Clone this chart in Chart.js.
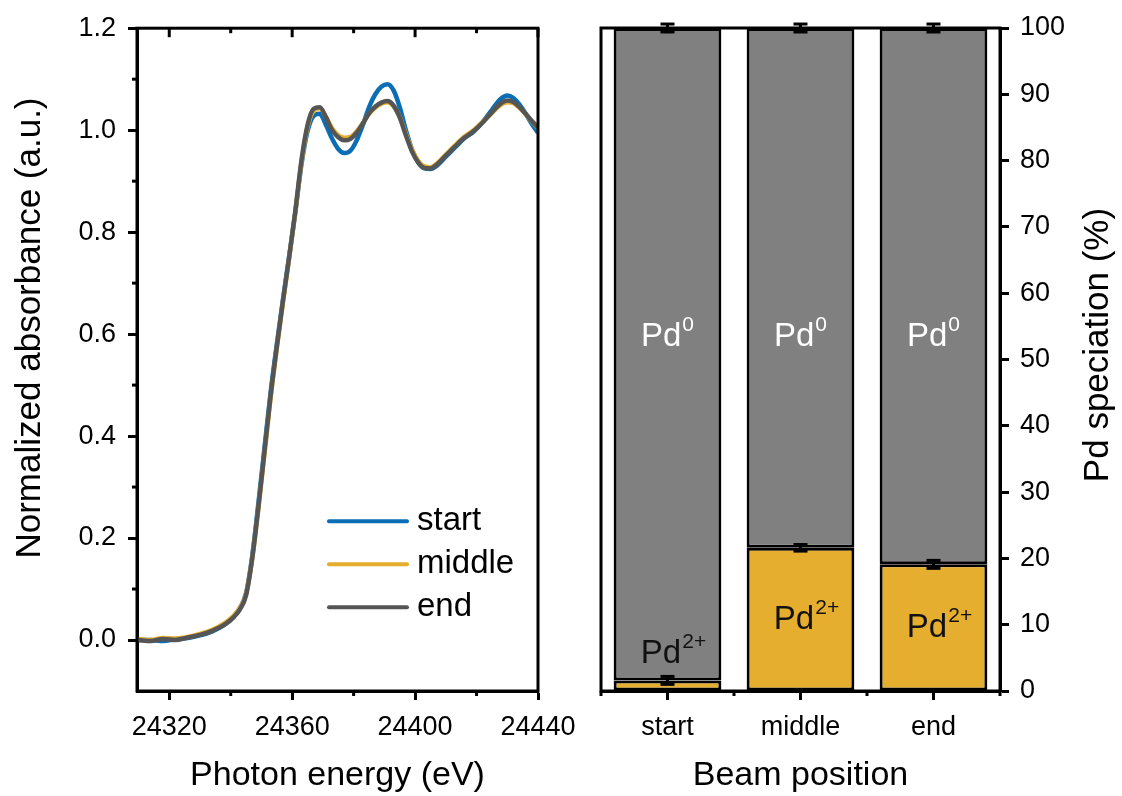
<!DOCTYPE html>
<html>
<head>
<meta charset="utf-8">
<title>Pd K-edge XANES and speciation</title>
<script src="https://cdn.jsdelivr.net/npm/chart.js@4.4.1/dist/chart.umd.min.js"></script>
<style>
  html, body { margin: 0; padding: 0; background: #fff; }
  #wrap { position: relative; width: 1122px; height: 796px; overflow: hidden; }
  canvas { position: absolute; top: 0; }
  #spectra { left: 0; }
  #speciation { left: 560px; }
</style>
</head>
<body>
<div id="wrap">
  <canvas id="spectra" width="600" height="796"></canvas>
  <canvas id="speciation" width="562" height="796"></canvas>
</div>
<script>
// Left panel: normalized XANES spectra
const energy = [24310, 24314, 24318, 24322, 24326, 24330, 24334, 24338, 24341, 24343,
  24345, 24347, 24349, 24351, 24353, 24355, 24357, 24359, 24361, 24363,
  24365, 24367, 24369, 24371, 24373, 24375, 24377, 24379, 24381, 24383,
  24385, 24387, 24389, 24391, 24393, 24395, 24397, 24399, 24401, 24403,
  24405, 24407, 24410, 24413, 24416, 24419, 24422, 24425, 24428, 24430,
  24432, 24434, 24436, 24438, 24440];

const absStart = [0.000, 0.000, -0.002, 0.002, 0.004, 0.009, 0.017, 0.030, 0.046, 0.063,
  0.092, 0.165, 0.268, 0.378, 0.487, 0.580, 0.668, 0.752, 0.838, 0.932,
  0.998, 1.028, 1.032, 1.010, 0.983, 0.963, 0.955, 0.960, 0.980, 1.010,
  1.045, 1.070, 1.085, 1.090, 1.078, 1.045, 1.000, 0.962, 0.937, 0.925,
  0.924, 0.930, 0.948, 0.966, 0.984, 0.997, 1.016, 1.040, 1.062, 1.068,
  1.063, 1.050, 1.032, 1.012, 0.995];

const absMiddle = [0.002, 0.000, 0.004, 0.003, 0.006, 0.012, 0.020, 0.033, 0.048, 0.063,
  0.090, 0.160, 0.258, 0.366, 0.476, 0.572, 0.662, 0.748, 0.838, 0.936,
  1.006, 1.038, 1.043, 1.026, 1.004, 0.990, 0.985, 0.987, 0.998, 1.014,
  1.032, 1.044, 1.052, 1.055, 1.047, 1.026, 0.993, 0.962, 0.940, 0.929,
  0.927, 0.934, 0.952, 0.970, 0.987, 1.000, 1.016, 1.034, 1.050, 1.055,
  1.053, 1.044, 1.031, 1.017, 1.004];

const absEnd = [0.000, -0.002, 0.002, 0.000, 0.005, 0.010, 0.018, 0.030, 0.045, 0.060,
  0.088, 0.160, 0.260, 0.370, 0.480, 0.575, 0.665, 0.750, 0.840, 0.940,
  1.010, 1.042, 1.045, 1.025, 1.000, 0.986, 0.980, 0.983, 0.995, 1.013,
  1.033, 1.046, 1.054, 1.057, 1.048, 1.025, 0.990, 0.958, 0.937, 0.926,
  0.925, 0.932, 0.950, 0.968, 0.985, 0.998, 1.015, 1.035, 1.053, 1.058,
  1.055, 1.045, 1.032, 1.018, 1.005];

const seriesNames = ['start', 'middle', 'end'];
const energyTicks = [24320, 24360, 24400, 24440];
const energyMinorTicks = [24340, 24380, 24420];
const absTicks = [0, 0.2, 0.4, 0.6, 0.8, 1.0, 1.2];
const absMinorTicks = [0.1, 0.3, 0.5, 0.7, 0.9, 1.1];

// Right panel: Pd speciation from linear combination fitting
const positions = ['start', 'middle', 'end'];
const pd2Share = [1.6, 21.6, 19.1];
const pd2Error = [0.6, 0.5, 0.6];
const pd0Share = [98.4, 78.4, 80.9];
const pd0Error = [0.6, 0.6, 0.6];
const shareTicks = [0, 10, 20, 30, 40, 50, 60, 70, 80, 90, 100];

const FONT = "'Liberation Sans', Arial, sans-serif";
Chart.defaults.font.family = FONT;
Chart.defaults.color = '#000';

const seriesColors = ['#0b6db3', '#e6ae2e', '#555555'];
const absSeries = [absStart, absMiddle, absEnd];

function line(ctx, x1, y1, x2, y2) {
  ctx.beginPath();
  ctx.moveTo(x1, y1);
  ctx.lineTo(x2, y2);
  ctx.stroke();
}

function verticalTitle(ctx, text, x, y) {
  ctx.save();
  ctx.translate(x, y);
  ctx.rotate(-Math.PI / 2);
  ctx.font = '35px ' + FONT;
  ctx.fillStyle = '#000';
  ctx.textAlign = 'center';
  ctx.textBaseline = 'middle';
  ctx.fillText(text, 0, 0);
  ctx.restore();
}

// "Pd" with a raised superscript, centred on cx
function pdLabel(ctx, sup, cx, baseline, color) {
  ctx.save();
  ctx.fillStyle = color;
  ctx.textBaseline = 'alphabetic';
  ctx.textAlign = 'left';
  ctx.font = '33px ' + FONT;
  const wBase = ctx.measureText('Pd').width;
  ctx.font = '21px ' + FONT;
  const wSup = ctx.measureText(sup).width;
  const x0 = cx - (wBase + wSup + 1) / 2;
  ctx.font = '33px ' + FONT;
  ctx.fillText('Pd', x0, baseline);
  ctx.font = '21px ' + FONT;
  ctx.fillText(sup, x0 + wBase + 1, baseline - 15);
  ctx.restore();
}

const axisGrid = { drawOnChartArea: false, tickLength: 9, tickWidth: 3, tickColor: '#000' };
const axisBorder = { color: '#000', width: 3 };

const spectraDecor = {
  id: 'spectraDecor',
  afterDraw(chart) {
    const { ctx, chartArea: a, scales: { x, y } } = chart;
    ctx.save();
    ctx.strokeStyle = '#000';
    ctx.lineWidth = 3;
    // mirrored ticks on the top edge point inward
    energyTicks.forEach(v => {
      const px = x.getPixelForValue(v);
      line(ctx, px, a.top, px, a.top + 9);
    });
    energyMinorTicks.forEach(v => {
      const px = x.getPixelForValue(v);
      line(ctx, px, a.bottom, px, a.bottom + 5);
      line(ctx, px, a.top, px, a.top + 5);
    });
    absMinorTicks.forEach(v => {
      const py = y.getPixelForValue(v);
      line(ctx, a.left - 5, py, a.left, py);
    });
    ctx.strokeRect(a.left, a.top, a.right - a.left, a.bottom - a.top);

    // legend
    ctx.font = '33px ' + FONT;
    ctx.textBaseline = 'middle';
    ctx.fillStyle = '#000';
    ctx.lineCap = 'round';
    seriesNames.forEach((name, i) => {
      const ly = a.top + 493 + i * 43;
      ctx.strokeStyle = seriesColors[i];
      ctx.lineWidth = 4;
      line(ctx, a.left + 192, ly, a.left + 270, ly);
      ctx.fillText(name, a.left + 280, ly);
    });
    ctx.restore();

    verticalTitle(ctx, 'Normalized absorbance (a.u.)', 30, 328);
  }
};

new Chart(document.getElementById('spectra'), {
  type: 'line',
  data: {
    datasets: seriesNames.map((name, i) => ({
      label: name,
      data: energy.map((e, j) => ({ x: e, y: absSeries[i][j] })),
      borderColor: seriesColors[i],
      borderWidth: 4.5,
      pointRadius: 0,
      cubicInterpolationMode: 'monotone',
      order: 3 - i
    }))
  },
  options: {
    responsive: false,
    animation: false,
    devicePixelRatio: 1,
    layout: { padding: { top: 28, right: 62, left: 0, bottom: 0 } },
    plugins: { legend: { display: false }, tooltip: { enabled: false } },
    scales: {
      x: {
        type: 'linear',
        min: 24309.5,
        max: 24440,
        afterBuildTicks: s => { s.ticks = energyTicks.map(v => ({ value: v })); },
        afterFit: s => { s.height = 105; },
        ticks: { autoSkip: false, maxRotation: 0, font: { size: 27 }, padding: 11, callback: v => String(v) },
        grid: axisGrid,
        border: axisBorder,
        title: { display: true, text: 'Photon energy (eV)', font: { size: 34 }, padding: { top: 0, bottom: 0 } }
      },
      y: {
        min: -0.1,
        max: 1.2,
        afterBuildTicks: s => { s.ticks = absTicks.map(v => ({ value: v })); },
        afterFit: s => { s.width = 137; },
        ticks: { font: { size: 27 }, padding: 12, callback: v => v.toFixed(1) },
        grid: axisGrid,
        border: axisBorder
      }
    }
  },
  plugins: [spectraDecor]
});

const speciationDecor = {
  id: 'speciationDecor',
  afterDraw(chart) {
    const { ctx, chartArea: a, scales: { x, y } } = chart;
    const centers = positions.map((p, i) => x.getPixelForValue(i));

    // Pd0 / Pd2+ labels
    centers.forEach((cx, i) => {
      pdLabel(ctx, '0', cx, y.getPixelForValue(52), '#fff');
      const mid = pd2Share[i] > 8 ? pd2Share[i] / 2 + 0.4 : pd2Share[i] + 4.4;
      pdLabel(ctx, '2+', cx + 6, y.getPixelForValue(mid) + 12, '#111');
    });

    ctx.save();
    ctx.strokeStyle = '#000';
    // error bars
    ctx.lineWidth = 3;
    centers.forEach((cx, i) => {
      [[pd2Share[i], pd2Error[i]], [pd2Share[i] + pd0Share[i], pd0Error[i]]].forEach(([v, e]) => {
        const yTop = y.getPixelForValue(v + e);
        const yBot = y.getPixelForValue(v - e);
        line(ctx, cx, yTop, cx, yBot);
        line(ctx, cx - 7, yTop, cx + 7, yTop);
        line(ctx, cx - 7, yBot, cx + 7, yBot);
      });
    });

    // minor ticks between categories
    const bounds = [a.left];
    for (let i = 1; i < centers.length; i++) bounds.push((centers[i - 1] + centers[i]) / 2);
    bounds.push(a.right);
    bounds.forEach(px => line(ctx, px, a.bottom, px, a.bottom + 5));

    ctx.strokeRect(a.left, a.top, a.right - a.left, a.bottom - a.top);
    ctx.restore();

    verticalTitle(ctx, 'Pd speciation (%)', 538, 345);
  }
};

new Chart(document.getElementById('speciation'), {
  type: 'bar',
  data: {
    labels: positions,
    datasets: [
      {
        label: 'Pd2+',
        data: pd2Share,
        backgroundColor: '#e6ae2e',
        borderColor: '#000',
        borderWidth: 3,
        borderSkipped: false,
        categoryPercentage: 1,
        barPercentage: 0.81
      },
      {
        label: 'Pd0',
        data: pd0Share,
        backgroundColor: '#808080',
        borderColor: '#000',
        borderWidth: 3,
        borderSkipped: false,
        categoryPercentage: 1,
        barPercentage: 0.81
      }
    ]
  },
  options: {
    responsive: false,
    animation: false,
    devicePixelRatio: 1,
    layout: { padding: { top: 28, left: 41, right: 0, bottom: 0 } },
    plugins: { legend: { display: false }, tooltip: { enabled: false } },
    scales: {
      x: {
        stacked: true,
        afterFit: s => { s.height = 105; },
        ticks: { font: { size: 27 }, padding: 11, maxRotation: 0 },
        grid: Object.assign({ offset: false }, axisGrid),
        border: axisBorder,
        title: { display: true, text: 'Beam position', font: { size: 34 }, padding: { top: 0, bottom: 0 } }
      },
      y: {
        stacked: true,
        position: 'right',
        min: 0,
        max: 100,
        afterBuildTicks: s => { s.ticks = shareTicks.map(v => ({ value: v })); },
        afterFit: s => { s.width = 122; },
        ticks: { font: { size: 27 }, padding: 11 },
        grid: axisGrid,
        border: axisBorder
      }
    }
  },
  plugins: [speciationDecor]
});
</script>
</body>
</html>
